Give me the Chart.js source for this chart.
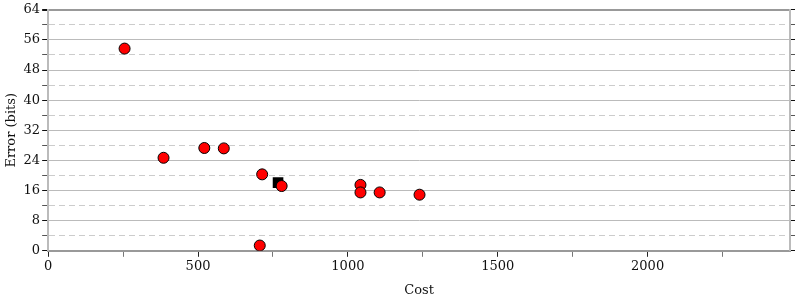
<!DOCTYPE html>
<html>
<head>
<meta charset="utf-8">
<script src="https://cdn.jsdelivr.net/npm/chart.js@4/dist/chart.umd.min.js"></script>
<style>
  body { margin: 0; background: #fff; }
</style>
</head>
<body>
<canvas id="chart" width="800" height="300"></canvas>
<script>
// values
const costs = [255, 385, 521, 586, 714, 706, 779, 1042, 1042, 1106, 1239];
const errors = [53.7, 24.7, 27.3, 27.2, 20.3, 1.4, 17.2, 17.5, 15.5, 15.5, 14.9];
const refCost = [767];
const refError = [18.1];
const yTicks = [0, 8, 16, 24, 32, 40, 48, 56, 64];
const yMinorTicks = [4, 12, 20, 28, 36, 44, 52, 60];
const xTicks = [0, 500, 1000, 1500, 2000];
const xMinorTicks = [250, 750, 1250, 1750, 2250];

const font = { family: "'DejaVu Serif', serif", size: 13 };

const isMajorY = (v) => yTicks.includes(v);
const isMajorX = (v) => xTicks.includes(v);
const setTicks = (list) => (scale) => {
  scale.ticks = list.slice().sort((a, b) => a - b).map((v) => ({ value: v }));
};

new Chart(document.getElementById("chart"), {
  type: "scatter",
  data: {
    datasets: [
      {
        data: costs.map((c, i) => ({ x: c, y: errors[i] })),
        backgroundColor: "#ff0000",
        borderColor: "#000000",
        borderWidth: 1,
        pointRadius: 5.5,
        pointHoverRadius: 5.5
      },
      {
        data: refCost.map((c, i) => ({ x: c, y: refError[i] })),
        pointStyle: "rect",
        backgroundColor: "#000000",
        borderColor: "#000000",
        borderWidth: 0,
        pointRadius: 7.5,
        pointHoverRadius: 7.5
      }
    ]
  },
  options: {
    responsive: false,
    animation: false,
    layout: { padding: { top: 6, right: 5, left: 4, bottom: 2 } },
    plugins: { legend: { display: false }, tooltip: { enabled: false } },
    scales: {
      x: {
        type: "linear",
        min: 0,
        max: 2475,
        afterBuildTicks: setTicks(xTicks.concat(xMinorTicks)),
        title: { display: true, text: "Cost", color: "#111", font, padding: { top: 6, bottom: 0 } },
        ticks: {
          color: "#111",
          font,
          maxRotation: 0,
          autoSkip: false,
          padding: 2,
          callback: (v) => (isMajorX(v) ? v : "")
        },
        grid: {
          drawOnChartArea: false,
          tickLength: 6,
          tickColor: (ctx) => (ctx.tick && isMajorX(ctx.tick.value) ? "#222" : "#777")
        },
        border: { color: "#999", width: 2 }
      },
      y: {
        min: 0,
        max: 64,
        afterBuildTicks: setTicks(yTicks.concat(yMinorTicks)),
        title: { display: true, text: "Error (bits)", color: "#111", font, padding: { top: 0, bottom: 2 } },
        ticks: {
          color: "#111",
          font,
          autoSkip: false,
          padding: 2,
          callback: (v) => (isMajorY(v) ? v : "")
        },
        grid: {
          color: (ctx) => {
            if (!ctx.tick) return "#bbb";
            if (ctx.tick.value === 64) return "#999";
            return isMajorY(ctx.tick.value) ? "#bbb" : "#ccc";
          },
          lineWidth: (ctx) => (ctx.tick && ctx.tick.value === 64 ? 2 : 1),
          tickLength: 6,
          tickColor: (ctx) => (ctx.tick && isMajorY(ctx.tick.value) ? "#111" : "#555")
        },
        border: {
          color: "#bbb",
          width: 2,
          dash: (ctx) => (ctx.tick && !isMajorY(ctx.tick.value) ? [6, 4] : [])
        }
      },
      y2: {
        position: "right",
        min: 0,
        max: 64,
        afterBuildTicks: setTicks(yTicks.concat(yMinorTicks)),
        ticks: { display: false },
        grid: {
          drawOnChartArea: false,
          tickLength: 5,
          tickColor: (ctx) => (ctx.tick && isMajorY(ctx.tick.value) ? "#111" : "#555")
        },
        border: { color: "#bbb", width: 2 }
      }
    }
  }
});
</script>
</body>
</html>
